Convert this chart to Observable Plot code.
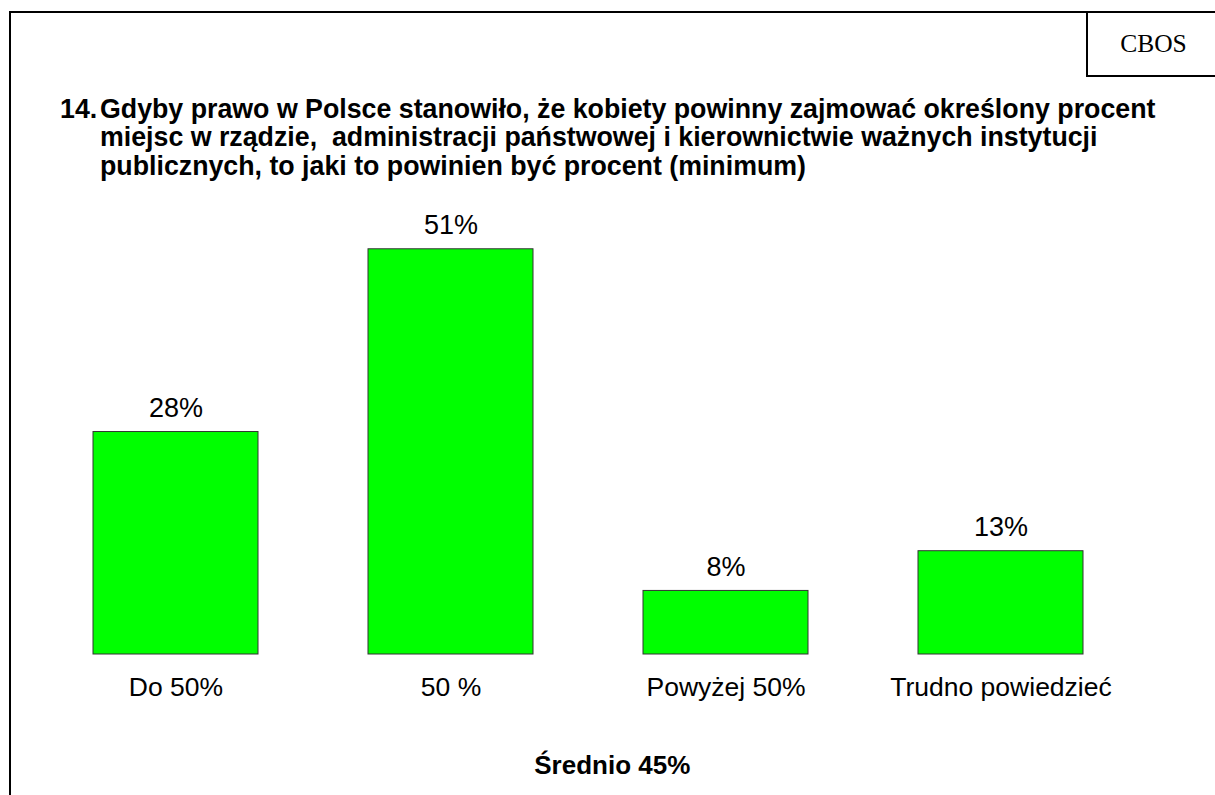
<!DOCTYPE html>
<html>
<head>
<meta charset="utf-8">
<script src="https://cdn.jsdelivr.net/npm/d3@7"></script>
<script src="https://cdn.jsdelivr.net/npm/@observablehq/plot@0.6"></script>
<style>
  html, body { margin: 0; padding: 0; background: #fff; }
  #page { position: relative; width: 1215px; height: 795px; overflow: hidden; font-family: "Liberation Sans", Arial, sans-serif; }
  #frame { position: absolute; left: 9px; top: 11px; width: 1230px; height: 820px; border: 2px solid #000; box-sizing: border-box; }
  #cbos { position: absolute; left: 1086px; top: 11px; width: 140px; height: 66px; border: 2px solid #000; box-sizing: border-box; }
  #cbos span { position: absolute; left: 0; width: 131px; top: 0; height: 62px; display: flex; align-items: center; justify-content: center;
          font-family: "Liberation Serif", "Times New Roman", serif; font-size: 25.5px; }
  #title { position: absolute; left: 60px; top: 94.5px; font-weight: bold; font-size: 26.75px; line-height: 28.5px; color: #000; display: flex; white-space: nowrap; }
  #title .num { width: 40px; flex: none; }
  #chart { position: absolute; left: 0; top: 190px; }
</style>
</head>
<body>
<div id="page">
  <div id="frame"></div>
  <div id="cbos"><span>CBOS</span></div>
  <div id="title"><span class="num">14.</span><span>Gdyby prawo w Polsce stanowiło, że kobiety powinny zajmować określony procent<br>miejsc w rządzie,&nbsp; administracji państwowej i kierownictwie ważnych instytucji<br>publicznych, to jaki to powinien być procent (minimum)</span></div>
  <div id="chart"></div>
</div>
<script>
const categories = ["Do 50%", "50 %", "Powyżej 50%", "Trudno powiedzieć"];
const values = [28, 51, 8, 13];
const summary = "Średnio 45%";

const data = categories.map((c, i) => ({category: c, value: values[i]}));

const chart = Plot.plot({
  width: 1215,
  height: 605,
  marginTop: 27,
  marginBottom: 141,
  marginLeft: 37.5,
  marginRight: 77,
  style: {fontFamily: "'Liberation Sans', Arial, sans-serif", background: "transparent", overflow: "visible"},
  x: {domain: categories, paddingInner: 0.4, paddingOuter: 0.2, axis: null},
  y: {domain: [0, 55], axis: null},
  marks: [
    Plot.barY(data, {x: "category", y: "value", fill: "#00ff00", stroke: "#333", strokeWidth: 1}),
    Plot.text(data, {x: "category", y: "value", text: d => d.value + "%", dy: -24, fontSize: 27, fill: "#000"}),
    Plot.text(data, {x: "category", y: () => 0, text: "category", dy: 33, fontSize: 26.5, fill: "#000"}),
    Plot.text([summary], {frameAnchor: "bottom", dy: 119, dx: 24, fontSize: 26, fontWeight: "bold", fill: "#000"})
  ]
});
document.getElementById("chart").appendChild(chart);
</script>
</body>
</html>
